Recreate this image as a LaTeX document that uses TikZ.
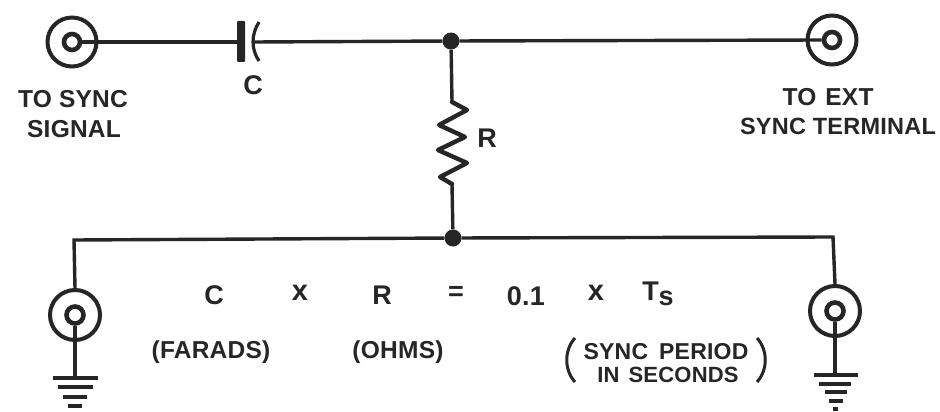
\documentclass[tikz,border=0pt]{standalone}
\usepackage{fontspec}
\setmainfont[BoldFont=Liberation Sans Bold,LetterSpace=1]{Liberation Sans}
\begin{document}
\begin{tikzpicture}[x=1pt,y=-1pt,
  wire/.style={line width=3.4pt,black!85},
  outer/.style={circle,draw=black!85,line width=4pt,minimum size=49pt,inner sep=0pt},
  inner/.style={circle,draw=black!85,line width=4.6pt,minimum size=16pt,inner sep=0pt},
  junction/.style={circle,fill=black!85,minimum size=17pt,inner sep=0pt},
  lab/.style={inner sep=0pt,font=\fontsize{24.5}{26}\selectfont\bfseries,black!85,align=center},
  biglab/.style={inner sep=0pt,font=\fontsize{27}{29}\selectfont\bfseries,black!85}]
\useasboundingbox (0,0) rectangle (940,412);
\fill[white] (0,0) rectangle (940,412);
% jacks
\node[outer] (j1o) at (72,42) {};
\node[inner] (j1i) at (72,42) {};
\node[outer] (j2o) at (832,40) {};
\node[inner] (j2i) at (832,40) {};
\node[outer,minimum size=50pt] (j3o) at (75,315) {};
\node[inner,minimum size=17pt] (j3i) at (75,315) {};
\node[outer,minimum size=50pt] (j4o) at (835,311) {};
\node[inner,minimum size=17pt] (j4i) at (835,311) {};
% junctions
\node[junction] (top) at (451,41) {};
\node[junction] (bot) at (453,238) {};
% capacitor
\coordinate (capa) at (241,42);
\coordinate (capb) at (254,42);
\fill[black!85,rounded corners=1pt] (237,21) rectangle (245,62);
\draw[line width=3.2pt,black!85] (259,22) .. controls (251,35) and (251,49) .. (259,61);
% resistor
\coordinate (ra) at (452,102);
\coordinate (rb) at (452,184);
\draw[line width=4.4pt,black!85,line join=round,line cap=round]
  (ra) -- (467,110) -- (439,125) -- (465,137) -- (438,150) -- (467,163) -- (440,177) -- (rb);
% wires
\draw[wire] (j1i.east) -- (capa);
\draw[wire] (capb) -- (top);
\draw[wire] (top) -- (j2i.west);
\draw[wire] (top) -- (ra);
\draw[wire] (rb) -- (bot);
\coordinate (cl) at (74,240);
\coordinate (cr) at (833,237);
\draw[wire,line join=miter] (j3o.north) -- (cl) -- (bot) -- (cr) -- (j4o.north);
% grounds
\coordinate (g3) at (75,378);
\coordinate (g4) at (835,375);
\draw[wire] (j3i.south) -- (g3);
\draw[wire] (j4i.south) -- (g4);
\draw[wire] (53,378) -- (98,378);
\draw[wire] (58,387) -- (93,387);
\draw[wire] (63,397) -- (87,397);
\draw[wire] (68,406) -- (82,406);
\draw[wire] (814,375) -- (858,375);
\draw[wire] (819,384) -- (851,384);
\draw[wire] (825,392) -- (847,392);
\draw[wire] (829,401) -- (843,401);
\draw[wire] (833,409) -- (838,409);
% labels
\node[lab] (t1) at (73,99) {TO SYNC};
\node[lab] (t2) at (74,129) {SIGNAL};
\node[biglab] (cL) at (253,85) {C};
\node[biglab] (rL) at (487,138) {R};
\node[lab] (t3) at (828,97) {TO\hspace{9pt}EXT};
\node[lab,font=\fontsize{23.5}{25}\selectfont\bfseries] (t4) at (838,126) {SYNC TERMINAL};
\node[biglab] (e1) at (214,295) {C};
\node[biglab,font=\fontsize{29}{31}\selectfont\bfseries] (e2) at (300,293) {x};
\node[biglab] (e3) at (382,295) {R};
\node[biglab] (e4) at (456,293) {=};
\node[biglab] (e5) at (526,296) {0.1};
\node[biglab,font=\fontsize{29}{31}\selectfont\bfseries] (e6) at (596,293) {x};
\node[biglab] (e7) at (658,294) {T\raisebox{-5pt}{s}};
\node[lab] (u1) at (211,352) {(FARADS)};
\node[lab] (u2) at (398,352) {(OHMS)};
\node[lab,font=\fontsize{23}{25}\selectfont\bfseries] (u3) at (666,352) {SYNC\hspace{11pt}PERIOD};
\node[lab,font=\fontsize{22}{24}\selectfont\bfseries] (u4) at (668,375) {IN\hspace{9pt}SECONDS};
\draw[line width=3pt,black!85] (575,338) .. controls (564,350) and (564,370) .. (575,382);
\draw[line width=3pt,black!85] (757,338) .. controls (768,350) and (768,370) .. (757,382);
\end{tikzpicture}
\end{document}
